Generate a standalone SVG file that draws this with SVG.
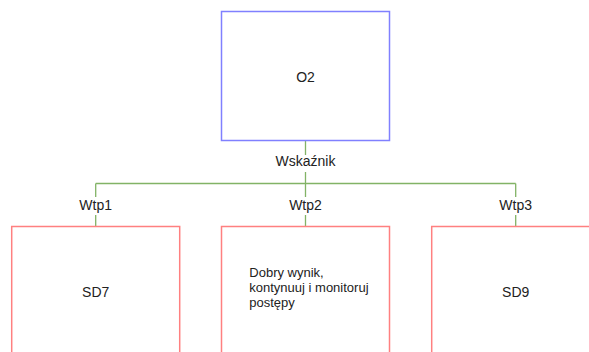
<svg xmlns="http://www.w3.org/2000/svg" width="589" height="352" viewBox="0 0 589 352">
  <style>
    .goal { fill: #ffffff; stroke: #8080ff; stroke-width: 1.5; }
    .step { fill: #ffffff; stroke: #ff8080; stroke-width: 1.5; }
    .link { fill: none; stroke: #82b366; stroke-width: 1.3; }
    .node-text { font-family: "Liberation Sans", Arial, sans-serif; font-size: 14px; fill: #222222; text-anchor: middle; }
    .body-text { font-family: "Liberation Sans", Arial, sans-serif; font-size: 13px; fill: #222222; }
    .edge-label { font-family: "Liberation Sans", Arial, sans-serif; font-size: 14px; fill: #222222; text-anchor: middle; }
  </style>
  <rect width="589" height="352" fill="#ffffff"/>

  <!-- connectors with their labels -->
  <g id="connectors">
    <path class="link" d="M305.5 141 V155 M305.5 172 V183.5 M95.7 183.5 H515.7 M95.7 183.5 V197 M305.5 183.5 V197 M515.7 183.5 V197 M95.7 215 V226.5 M305.5 215 V226.5 M515.7 215 V226.5"/>
    <text class="edge-label" x="305.5" y="166">Wskaźnik</text>
    <text class="edge-label" x="95.7" y="210">Wtp1</text>
    <text class="edge-label" x="305.5" y="210">Wtp2</text>
    <text class="edge-label" x="515.7" y="210">Wtp3</text>
  </g>

  <g id="O2">
    <rect class="goal" x="221.5" y="11.5" width="168" height="129"/>
    <text class="node-text" x="305.5" y="81.5">O2</text>
  </g>

  <g id="SD7">
    <rect class="step" x="11.7" y="226.5" width="168" height="130"/>
    <text class="node-text" x="95.7" y="296.5">SD7</text>
  </g>

  <g id="Wtp2-result">
    <rect class="step" x="221.5" y="226.5" width="168" height="130"/>
    <text class="body-text" x="249.3" y="277">Dobry wynik,</text>
    <text class="body-text" x="249.3" y="292">kontynuuj i monitoruj</text>
    <text class="body-text" x="249.3" y="307">postępy</text>
  </g>

  <g id="SD9">
    <rect class="step" x="431.7" y="226.5" width="168" height="130"/>
    <text class="node-text" x="515.7" y="296.5">SD9</text>
  </g>
</svg>
